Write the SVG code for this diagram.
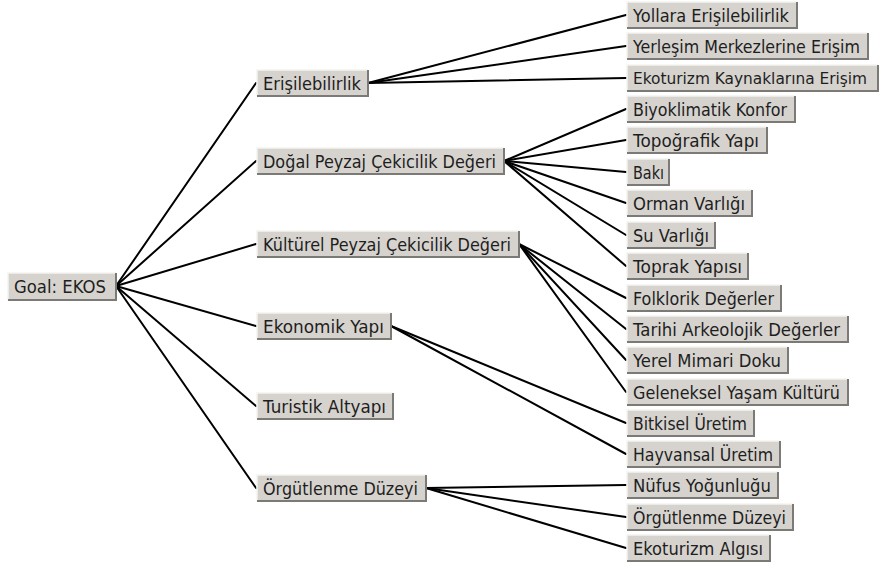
<svg xmlns="http://www.w3.org/2000/svg" width="882" height="565" viewBox="0 0 882 565">
<style>
.face{fill:#d6d3ce}
.hi{fill:none;stroke:#f4f3f0;stroke-width:1.5}
.sh{fill:none;stroke:#7c7a76;stroke-width:2}
text{font-family:"DejaVu Sans","Liberation Sans",sans-serif;font-size:17.5px;fill:#1e1e1e}
.c line{stroke:#000;stroke-width:2;stroke-linecap:round}
</style>
<rect width="882" height="565" fill="#fff"/>
<g class="c" id="connectors">
<line x1="116" y1="286" x2="256" y2="83"/>
<line x1="116" y1="286" x2="256" y2="161"/>
<line x1="116" y1="286" x2="256" y2="244"/>
<line x1="116" y1="286" x2="256" y2="326"/>
<line x1="116" y1="286" x2="256" y2="406"/>
<line x1="116" y1="286" x2="256" y2="488"/>
<line x1="368" y1="83" x2="626" y2="15"/>
<line x1="368" y1="83" x2="626" y2="46"/>
<line x1="368" y1="83" x2="626" y2="78"/>
<line x1="504" y1="161" x2="626" y2="109"/>
<line x1="504" y1="161" x2="626" y2="140"/>
<line x1="504" y1="161" x2="626" y2="172"/>
<line x1="504" y1="161" x2="626" y2="203"/>
<line x1="504" y1="161" x2="626" y2="235"/>
<line x1="504" y1="161" x2="626" y2="266"/>
<line x1="519" y1="244" x2="626" y2="298"/>
<line x1="519" y1="244" x2="626" y2="329"/>
<line x1="519" y1="244" x2="626" y2="360"/>
<line x1="519" y1="244" x2="626" y2="392"/>
<line x1="391" y1="326" x2="626" y2="423"/>
<line x1="391" y1="326" x2="626" y2="454"/>
<line x1="426" y1="488" x2="626" y2="485"/>
<line x1="426" y1="488" x2="626" y2="517"/>
<line x1="426" y1="488" x2="626" y2="548"/>
</g>
<g id="goal"><rect class="face" x="8" y="273" width="108" height="27"/><path class="hi" d="M8,300V273H116"/><path class="sh" d="M8,300H116V273"/><text x="14" y="293" textLength="92" lengthAdjust="spacingAndGlyphs">Goal: EKOS</text></g>
<g id="erisilebilirlik"><rect class="face" x="257" y="70" width="111" height="26"/><path class="hi" d="M257,96V70H368"/><path class="sh" d="M257,96H368V70"/><text x="263" y="89.5" textLength="98" lengthAdjust="spacingAndGlyphs">Erişilebilirlik</text></g>
<g id="dogal"><rect class="face" x="257" y="148" width="247" height="26"/><path class="hi" d="M257,174V148H504"/><path class="sh" d="M257,174H504V148"/><text x="263" y="167.5" textLength="233" lengthAdjust="spacingAndGlyphs">Doğal Peyzaj Çekicilik Değeri</text></g>
<g id="kulturel"><rect class="face" x="257" y="231" width="262" height="26"/><path class="hi" d="M257,257V231H519"/><path class="sh" d="M257,257H519V231"/><text x="263" y="250.5" textLength="248" lengthAdjust="spacingAndGlyphs">Kültürel Peyzaj Çekicilik Değeri</text></g>
<g id="ekonomik"><rect class="face" x="257" y="313" width="134" height="26"/><path class="hi" d="M257,339V313H391"/><path class="sh" d="M257,339H391V313"/><text x="263" y="332.5" textLength="121" lengthAdjust="spacingAndGlyphs">Ekonomik Yapı</text></g>
<g id="turistik"><rect class="face" x="257" y="393" width="136" height="26"/><path class="hi" d="M257,419V393H393"/><path class="sh" d="M257,419H393V393"/><text x="263" y="412.5" textLength="123" lengthAdjust="spacingAndGlyphs">Turistik Altyapı</text></g>
<g id="orgutlenme"><rect class="face" x="257" y="475" width="169" height="26"/><path class="hi" d="M257,501V475H426"/><path class="sh" d="M257,501H426V475"/><text x="263" y="494.5" textLength="155" lengthAdjust="spacingAndGlyphs">Örgütlenme Düzeyi</text></g>
<g id="yollara"><rect class="face" x="627" y="2" width="170" height="26"/><path class="hi" d="M627,28V2H797"/><path class="sh" d="M627,28H797V2"/><text x="633" y="21.5" textLength="156" lengthAdjust="spacingAndGlyphs">Yollara Erişilebilirlik</text></g>
<g id="yerlesim"><rect class="face" x="627" y="33" width="241" height="26"/><path class="hi" d="M627,59V33H868"/><path class="sh" d="M627,59H868V33"/><text x="633" y="52.5" textLength="227" lengthAdjust="spacingAndGlyphs">Yerleşim Merkezlerine Erişim</text></g>
<g id="ekoturizm-kaynak"><rect class="face" x="627" y="65" width="251" height="26"/><path class="hi" d="M627,91V65H878"/><path class="sh" d="M627,91H878V65"/><text x="633" y="84" style="font-size:16px" textLength="234" lengthAdjust="spacingAndGlyphs">Ekoturizm Kaynaklarına Erişim</text></g>
<g id="biyoklimatik"><rect class="face" x="627" y="96" width="168" height="26"/><path class="hi" d="M627,122V96H795"/><path class="sh" d="M627,122H795V96"/><text x="633" y="115.5" textLength="154" lengthAdjust="spacingAndGlyphs">Biyoklimatik Konfor</text></g>
<g id="topografik"><rect class="face" x="627" y="127" width="140" height="26"/><path class="hi" d="M627,153V127H767"/><path class="sh" d="M627,153H767V127"/><text x="633" y="146.5" textLength="126" lengthAdjust="spacingAndGlyphs">Topoğrafik Yapı</text></g>
<g id="baki"><rect class="face" x="627" y="159" width="42" height="26"/><path class="hi" d="M627,185V159H669"/><path class="sh" d="M627,185H669V159"/><text x="633" y="178.5" textLength="31" lengthAdjust="spacingAndGlyphs">Bakı</text></g>
<g id="orman"><rect class="face" x="627" y="190" width="125" height="26"/><path class="hi" d="M627,216V190H752"/><path class="sh" d="M627,216H752V190"/><text x="633" y="209.5" textLength="112" lengthAdjust="spacingAndGlyphs">Orman Varlığı</text></g>
<g id="su"><rect class="face" x="627" y="222" width="88" height="26"/><path class="hi" d="M627,248V222H715"/><path class="sh" d="M627,248H715V222"/><text x="633" y="241.5" textLength="76" lengthAdjust="spacingAndGlyphs">Su Varlığı</text></g>
<g id="toprak"><rect class="face" x="627" y="253" width="121" height="26"/><path class="hi" d="M627,279V253H748"/><path class="sh" d="M627,279H748V253"/><text x="633" y="272.5" textLength="109" lengthAdjust="spacingAndGlyphs">Toprak Yapısı</text></g>
<g id="folklorik"><rect class="face" x="627" y="285" width="154" height="26"/><path class="hi" d="M627,311V285H781"/><path class="sh" d="M627,311H781V285"/><text x="633" y="304.5" textLength="141" lengthAdjust="spacingAndGlyphs">Folklorik Değerler</text></g>
<g id="tarihi"><rect class="face" x="627" y="316" width="221" height="26"/><path class="hi" d="M627,342V316H848"/><path class="sh" d="M627,342H848V316"/><text x="633" y="335.5" textLength="207" lengthAdjust="spacingAndGlyphs">Tarihi Arkeolojik Değerler</text></g>
<g id="yerel"><rect class="face" x="627" y="347" width="161" height="26"/><path class="hi" d="M627,373V347H788"/><path class="sh" d="M627,373H788V347"/><text x="633" y="366.5" textLength="148" lengthAdjust="spacingAndGlyphs">Yerel Mimari Doku</text></g>
<g id="geleneksel"><rect class="face" x="627" y="379" width="221" height="26"/><path class="hi" d="M627,405V379H848"/><path class="sh" d="M627,405H848V379"/><text x="633" y="398.5" textLength="207" lengthAdjust="spacingAndGlyphs">Geleneksel Yaşam Kültürü</text></g>
<g id="bitkisel"><rect class="face" x="627" y="410" width="127" height="26"/><path class="hi" d="M627,436V410H754"/><path class="sh" d="M627,436H754V410"/><text x="633" y="429.5" textLength="114" lengthAdjust="spacingAndGlyphs">Bitkisel Üretim</text></g>
<g id="hayvansal"><rect class="face" x="627" y="441" width="153" height="26"/><path class="hi" d="M627,467V441H780"/><path class="sh" d="M627,467H780V441"/><text x="633" y="460.5" textLength="140" lengthAdjust="spacingAndGlyphs">Hayvansal Üretim</text></g>
<g id="nufus"><rect class="face" x="627" y="472" width="151" height="26"/><path class="hi" d="M627,498V472H778"/><path class="sh" d="M627,498H778V472"/><text x="633" y="491.5" textLength="138" lengthAdjust="spacingAndGlyphs">Nüfus Yoğunluğu</text></g>
<g id="orgutlenme-duzeyi"><rect class="face" x="627" y="504" width="166" height="26"/><path class="hi" d="M627,530V504H793"/><path class="sh" d="M627,530H793V504"/><text x="633" y="523.5" textLength="153" lengthAdjust="spacingAndGlyphs">Örgütlenme Düzeyi</text></g>
<g id="ekoturizm-algisi"><rect class="face" x="627" y="535" width="143" height="26"/><path class="hi" d="M627,561V535H770"/><path class="sh" d="M627,561H770V535"/><text x="633" y="554.5" textLength="130" lengthAdjust="spacingAndGlyphs">Ekoturizm Algısı</text></g>
</svg>
